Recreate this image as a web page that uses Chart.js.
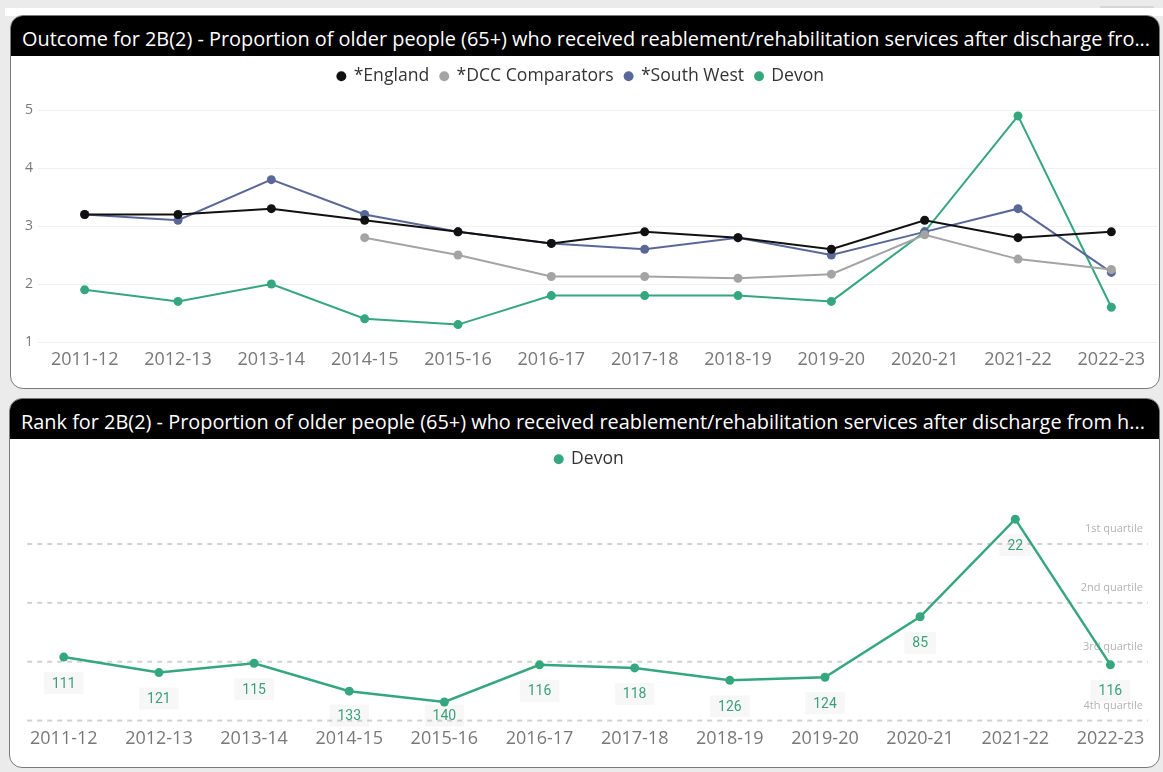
<!DOCTYPE html>
<html>
<head>
<meta charset="utf-8">
<title>2B(2) reablement outcome and rank</title>
<script src="https://cdn.jsdelivr.net/npm/chart.js@4.4.0/dist/chart.umd.min.js"></script>
<style>
  html, body { margin: 0; padding: 0; }
  body {
    width: 1163px; height: 772px; position: relative; overflow: hidden;
    background: #ebebeb; font-family: "Open Sans", "Noto Sans", sans-serif;
  }
  .strip { position: absolute; left: 5px; top: 8px; width: 1158px; height: 8px; background: #fff; }
  .tab { position: absolute; left: 1100px; top: 6px; width: 54px; height: 2px; background: #d6d6d6; }
  .card {
    position: absolute; box-sizing: border-box; background: #fff;
    border: 1.5px solid #7a7a7a; border-radius: 13px; overflow: hidden;
  }
  .card h2 {
    margin: 0; height: 40px; line-height: 45px; padding-left: 11px;
    background: #000; color: #fff; font-size: 19.9px; font-weight: normal;
    white-space: nowrap; overflow: hidden;
  }
  #outcomeCard { left: 10px; top: 15px; width: 1150px; height: 374px; }
  #rankCard { left: 9px; top: 398px; width: 1151px; height: 370px; }
  canvas { position: absolute; left: 0; }
  #outcomeChart { top: 56px; }
  #rankChart { top: 438px; }
</style>
</head>
<body>
<div class="strip"></div>
<div class="tab"></div>
<div class="card" id="outcomeCard"><h2>Outcome for 2B(2) - Proportion of older people (65+) who received reablement/rehabilitation services after discharge fro...</h2></div>
<div class="card" id="rankCard"><h2>Rank for 2B(2) - Proportion of older people (65+) who received reablement/rehabilitation services after discharge from h...</h2></div>
<canvas id="outcomeChart" width="1163" height="331"></canvas>
<canvas id="rankChart" width="1163" height="328"></canvas>
<script>
const seasons = ['2011-12', '2012-13', '2013-14', '2014-15', '2015-16', '2016-17',
                 '2017-18', '2018-19', '2019-20', '2020-21', '2021-22', '2022-23'];

// outcome (%) per year
const englandValues    = [3.2, 3.2, 3.3, 3.1, 2.9, 2.7, 2.9, 2.8, 2.6, 3.1, 2.8, 2.9];
const comparatorValues = [null, null, null, 2.8, 2.5, 2.13, 2.13, 2.1, 2.17, 2.85, 2.43, 2.25];
const southWestValues  = [3.2, 3.1, 3.8, 3.2, 2.9, 2.7, 2.6, 2.8, 2.5, 2.9, 3.3, 2.2];
const devonValues      = [1.9, 1.7, 2.0, 1.4, 1.3, 1.8, 1.8, 1.8, 1.7, 2.9, 4.9, 1.6];
const outcomeTicks     = [1, 2, 3, 4, 5];

// Devon rank out of 152 councils
const devonRanks     = [111, 121, 115, 133, 140, 116, 118, 126, 124, 85, 22, 116];
const quartileRanks  = [38, 76, 114, 152];
const quartileLabels = ['1st quartile', '2nd quartile', '3rd quartile', '4th quartile'];

const GREEN = '#35a77e';
const FONT = '"Open Sans", "Noto Sans", sans-serif';

// push the plot down below the legend
function legendGap(extra) {
    return {
        id: 'legendGap',
        beforeInit(chart) {
            const fit = chart.legend.fit;
            chart.legend.fit = function () {
                fit.call(this);
                this.height += extra;
            };
        }
    };
}

function lineSet(label, data, color) {
    return {
        label: label,
        data: data,
        borderColor: color,
        backgroundColor: color,
        borderWidth: 2,
        pointRadius: 4.5,
        pointBorderWidth: 0,
        pointHoverRadius: 5,
        tension: 0,
        clip: false
    };
}

const legendOpts = {
    position: 'top',
    labels: {
        usePointStyle: true,
        pointStyle: 'circle',
        boxWidth: 7,
        boxHeight: 7,
        padding: 11.5,
        color: '#333',
        font: { family: FONT, size: 17.6 }
    }
};

const xAxis = {
    offset: true,
    grid: { display: false, drawTicks: false },
    border: { display: false },
    ticks: { color: '#787878', padding: 7, maxRotation: 0, autoSkip: false, font: { family: FONT, size: 18 } },
    afterFit(scale) { scale.height = 45; }
};

const outcomeCtx = document.getElementById('outcomeChart').getContext('2d');
new Chart(outcomeCtx, {
    type: 'line',
    data: {
        labels: seasons,
        datasets: [
            lineSet('*England', englandValues, '#111111'),
            lineSet('*DCC Comparators', comparatorValues, '#a4a4a4'),
            lineSet('*South West', southWestValues, '#5a6899'),
            lineSet('Devon', devonValues, GREEN)
        ]
    },
    options: {
        responsive: false,
        animation: false,
        layout: { padding: { top: 0, right: 1, bottom: 0, left: 0 } },
        plugins: { legend: legendOpts, tooltip: { enabled: false } },
        scales: {
            x: xAxis,
            y: {
                min: 1,
                max: 5,
                border: { display: false },
                grid: { color: '#f0f0f0', lineWidth: 1, drawTicks: false },
                afterBuildTicks(scale) { scale.ticks = outcomeTicks.map(v => ({ value: v })); },
                afterFit(scale) { scale.width = 38; },
                ticks: { color: '#787878', padding: 5, font: { family: FONT, size: 14 } }
            }
        }
    },
    plugins: [legendGap(15)]
});

// dashed quartile bands with their captions
const quartileLines = {
    id: 'quartileLines',
    beforeDatasetsDraw(chart) {
        const { ctx, chartArea, scales } = chart;
        ctx.save();
        quartileRanks.forEach((rank, i) => {
            const py = scales.y.getPixelForValue(rank);
            ctx.strokeStyle = '#d2d2d2';
            ctx.lineWidth = 2;
            ctx.setLineDash([5, 5]);
            ctx.beginPath();
            ctx.moveTo(chartArea.left + 11, py);
            ctx.lineTo(chartArea.right - 10, py);
            ctx.stroke();
            ctx.fillStyle = '#b2b2b2';
            ctx.font = '11px ' + FONT;
            ctx.textAlign = 'right';
            ctx.textBaseline = 'middle';
            ctx.fillText(quartileLabels[i], chartArea.right - 15, py - 15);
        });
        ctx.restore();
    }
};

// rank value under each point
const rankLabels = {
    id: 'rankLabels',
    afterDatasetsDraw(chart) {
        const { ctx, chartArea } = chart;
        const meta = chart.getDatasetMeta(0);
        ctx.save();
        ctx.font = '14px Roboto, ' + FONT;
        ctx.textAlign = 'center';
        ctx.textBaseline = 'middle';
        meta.data.forEach((pt, i) => {
            const text = String(devonRanks[i]);
            const y = Math.min(pt.y + 26, chartArea.bottom - 5);
            const w = ctx.measureText(text).width + 16;
            ctx.fillStyle = 'rgba(0, 0, 0, 0.03)';
            ctx.fillRect(pt.x - w / 2, y - 11, w, 22);
            ctx.fillStyle = '#3a9f7a';
            ctx.fillText(text, pt.x, y + 1);
        });
        ctx.restore();
    }
};

const rankCtx = document.getElementById('rankChart').getContext('2d');
new Chart(rankCtx, {
    type: 'line',
    data: {
        labels: seasons,
        datasets: [Object.assign(lineSet('Devon', devonRanks, GREEN), { borderWidth: 2.5 })]
    },
    options: {
        responsive: false,
        animation: false,
        layout: { padding: { top: 0, right: 0.2, bottom: 0, left: 16.2 } },
        plugins: {
            legend: Object.assign({}, legendOpts, { labels: Object.assign({}, legendOpts.labels, { padding: 12.5 }) }),
            tooltip: { enabled: false }
        },
        scales: {
            x: Object.assign({}, xAxis, { afterFit(scale) { scale.height = 45.4; } }),
            y: { display: false, reverse: true, min: 0, max: 152 }
        }
    },
    plugins: [legendGap(7), quartileLines, rankLabels]
});
</script>
</body>
</html>
